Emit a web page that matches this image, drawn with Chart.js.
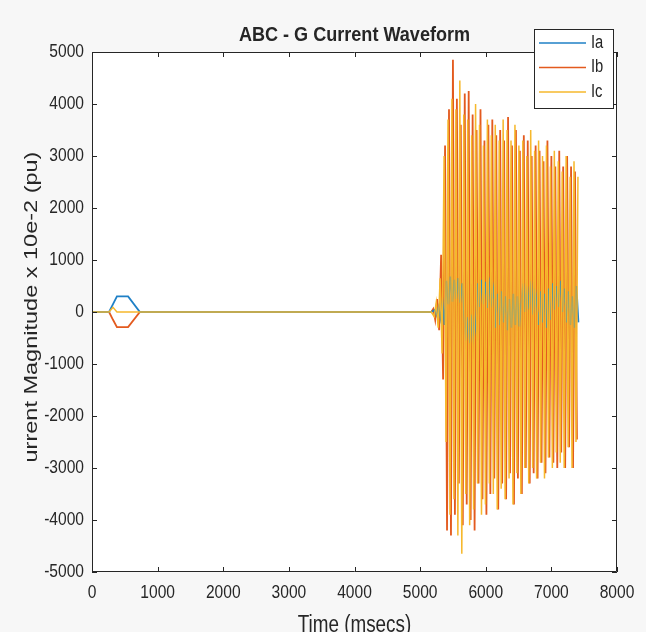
<!DOCTYPE html>
<html>
<head>
<meta charset="utf-8">
<script src="https://cdn.jsdelivr.net/npm/chart.js@4.4.0/dist/chart.umd.min.js"></script>
<style>
  html, body { margin: 0; padding: 0; background: #f7f7f7; }
  #wrap { width: 646px; height: 632px; }
</style>
</head>
<body>
<div id="wrap"><canvas id="c" width="646" height="632"></canvas></div>
<script>
// pre-fault part (ms) and values
const preTimes = [0, 260, 320, 380, 550, 730, 5170];
const preIa = [0, 0, 150, 300, 300, 0, 0];
const preIb = [0, 0, -150, -290, -290, 0, 0];
const preIc = [0, 0, 90, 0, 0, 0, 0];

// fault part: peaks
const faultTimes = [
  5200, 5230, 5260, 5290, 5320, 5350, 5380, 5410, 5440, 5470,
  5500, 5530, 5560, 5590, 5620, 5650, 5680, 5710, 5740, 5770,
  5800, 5830, 5860, 5890, 5920, 5950, 5980, 6010, 6040, 6070,
  6100, 6130, 6160, 6190, 6220, 6250, 6280, 6310, 6340, 6370,
  6400, 6430, 6460, 6490, 6520, 6550, 6580, 6610, 6640, 6670,
  6700, 6730, 6760, 6790, 6820, 6850, 6880, 6910, 6940, 6970,
  7000, 7030, 7060, 7090, 7120, 7150, 7180, 7210, 7240, 7270,
  7300, 7330, 7360, 7390
];
const faultIa = [
  40, -60, 90, -120, 200, -250,
  600, 150, 680, 200, 620, 250, 650, 180, 550,
  -80, -550, -100, -600, -50, -480, -150,
  550, 100, 620, 150, 580, 80, 520, 200, 450,
  -300, 350, -250, 400, -200, 300, -350,
  250, -300, 350, -250, 300, -280, 200,
  550, 0, 500, 50, 600, -50, 450, 100,
  -250, 400, -200, 350, -300, 450, -150,
  550, 50, 500, 100, 600, 0, 450,
  -200, 400, -250, 300, -300, 500, -200
];
const faultIb = [
  60, -150, 250, -350, 1100, -1300, 3200, -4200, 3900, -4300,
  4850, -3900, 4100, -3300, 3600, -4100, 4200, -3700, 4250, -4000,
  3800, -4200, 3500, -3300, 3900, -3600, 3300, -3900, 3600, -3500,
  3700, -3200, 3400, -3800, 3500, -3300, 3300, -3600, 3750, -3100,
  3200, -3700, 3500, -3200, 3100, -3500, 3400, -3000, 3300, -3300,
  3000, -3100, 3200, -3200, 3100, -2900, 2900, -3100, 3300, -2800,
  3000, -2900, 2800, -3000, 3100, -2700, 2800, -3000, 3000, -2600,
  2800, -3000, 2700, -2450
];
const faultIc = [
  -90, 180, -300, 650, -800, 3000, -2500, 3700, -3900, 4100,
  -3600, 3900, -4300, 4450, -4650, 3800, -3500, 3700, -4100, 3400,
  -3800, 4000, -3300, 3600, -3900, 3200, -3700, 3700, -3300, 3400,
  -3500, 3600, -3800, 3300, -3400, 3700, -3600, 3500, -3200, 3300,
  -3700, 3600, -3100, 3200, -3500, 3300, -3000, 3000, -3300, 3500,
  -3000, 3100, -3200, 3300, -2900, 3000, -3200, 3200, -2800, 2800,
  -3000, 3100, -2700, 2900, -2900, 2700, -3000, 3000, -2600, 2600,
  -3000, 2900, -2500, 2600
];

const seriesNames = ["Ia", "Ib", "Ic"];
const seriesColors = ["#1f80c6", "#e35a1e", "#f6b82c"];
const xTicks = [0, 1000, 2000, 3000, 4000, 5000, 6000, 7000, 8000];
const yTicks = [-5000, -4000, -3000, -2000, -1000, 0, 1000, 2000, 3000, 4000, 5000];

const toPts = (ts, vs, shift) => ts.map((t, i) => ({ x: t + (shift || 0), y: vs[i] }));

const FRAME = "#262626";
const SX = 0.82; // the reference text is squeezed sideways

function squeezedText(ctx, txt, x, y, font, align, baseline, sx) {
  ctx.save();
  ctx.font = font;
  ctx.textAlign = align;
  ctx.textBaseline = baseline;
  ctx.translate(x, y);
  ctx.scale(sx || SX, 1);
  ctx.fillText(txt, 0, 0);
  ctx.restore();
}

const matlabFrame = {
  id: "matlabFrame",
  beforeDatasetsDraw(chart) {
    const { ctx, chartArea: a } = chart;
    ctx.save();
    ctx.fillStyle = "#ffffff";
    ctx.fillRect(a.left, a.top, a.right - a.left, a.bottom - a.top);
    ctx.restore();
  },
  afterDraw(chart) {
    const { ctx, chartArea: a } = chart;
    const xs = chart.scales.x, ys = chart.scales.y;
    ctx.save();
    ctx.strokeStyle = FRAME;
    ctx.lineWidth = 1;
    ctx.beginPath();
    ctx.rect(a.left + 0.5, a.top + 0.5, a.right - a.left - 1, a.bottom - a.top - 1);
    ctx.stroke();

    // inward ticks on all sides
    ctx.beginPath();
    xTicks.forEach((v) => {
      const px = Math.round(xs.getPixelForValue(v)) + 0.5;
      ctx.moveTo(px, a.bottom); ctx.lineTo(px, a.bottom - 5);
      ctx.moveTo(px, a.top); ctx.lineTo(px, a.top + 5);
    });
    yTicks.forEach((v) => {
      const py = Math.round(ys.getPixelForValue(v)) + 0.5;
      ctx.moveTo(a.left, py); ctx.lineTo(a.left + 5, py);
      ctx.moveTo(a.right, py); ctx.lineTo(a.right - 5, py);
    });
    ctx.stroke();

    ctx.fillStyle = FRAME;
    const tickFont = "19px 'Liberation Sans', Arial, sans-serif";
    xTicks.forEach((v) => {
      squeezedText(ctx, String(v), xs.getPixelForValue(v), a.bottom + 21, tickFont, "center", "middle");
    });
    yTicks.forEach((v) => {
      squeezedText(ctx, String(v), a.left - 8, ys.getPixelForValue(v), tickFont, "right", "middle");
    });

    // title
    squeezedText(ctx, "ABC - G Current Waveform", (a.left + a.right) / 2, 41,
      "bold 21px 'Liberation Sans', Arial, sans-serif", "center", "alphabetic", 0.86);

    // x axis title (cut by the bottom edge like the reference)
    squeezedText(ctx, "Time (msecs)", (a.left + a.right) / 2, 632,
      "23px 'Liberation Sans', Arial, sans-serif", "center", "alphabetic");

    // y axis title, rotated
    ctx.save();
    ctx.translate(37, (a.top + a.bottom) / 2 - 5);
    ctx.rotate(-Math.PI / 2);
    ctx.scale(1, SX);
    ctx.font = "23.5px 'Liberation Sans', Arial, sans-serif";
    ctx.textAlign = "center";
    ctx.textBaseline = "alphabetic";
    ctx.fillText("urrent Magnitude x 10e-2 (pu)", 0, 0);
    ctx.restore();

    // legend box
    const lx = 534, ly = 29, lw = 79, lh = 79;
    ctx.fillStyle = "#ffffff";
    ctx.fillRect(lx, ly, lw, lh);
    ctx.strokeStyle = FRAME;
    ctx.lineWidth = 1;
    ctx.strokeRect(lx + 0.5, ly + 0.5, lw, lh);
    seriesNames.forEach((name, i) => {
      const yy = 43 + i * 24.5;
      ctx.strokeStyle = seriesColors[i];
      ctx.lineWidth = 1.5;
      ctx.beginPath();
      ctx.moveTo(539, yy); ctx.lineTo(586, yy);
      ctx.stroke();
      ctx.fillStyle = FRAME;
      squeezedText(ctx, name, 591, yy, "18px 'Liberation Sans', Arial, sans-serif", "left", "middle");
    });
    ctx.restore();
  },
};

// Ic on top, Ia between, Ib at the back
const datasets = [
  { label: "Ia", data: [...toPts(preTimes, preIa), ...toPts(faultTimes, faultIa, 22)], order: 1, borderWidth: 1.8 },
  { label: "Ib", data: [...toPts(preTimes, preIb), ...toPts(faultTimes, faultIb)], order: 2, borderWidth: 1.8 },
  { label: "Ic", data: [...toPts(preTimes, preIc), ...toPts(faultTimes, faultIc, 15)], order: 0, borderWidth: 1.5 },
].map((d, i) => ({
  ...d,
  borderColor: seriesColors[i],
  backgroundColor: seriesColors[i],
  pointRadius: 0,
  fill: false,
  tension: 0,
}));

new Chart(document.getElementById("c").getContext("2d"), {
  type: "line",
  data: { datasets },
  options: {
    responsive: false,
    animation: false,
    devicePixelRatio: 1,
    layout: { padding: { top: 52, right: 29, left: 0, bottom: 0 } },
    plugins: {
      legend: { display: false },
      tooltip: { enabled: false },
      title: { display: false },
    },
    scales: {
      x: {
        type: "linear",
        min: 0,
        max: 8000,
        ticks: { display: false, stepSize: 1000 },
        grid: { display: false },
        border: { display: false },
        afterFit: (s) => { s.height = 60; },
      },
      y: {
        min: -5000,
        max: 5000,
        ticks: { display: false, stepSize: 1000 },
        grid: { display: false },
        border: { display: false },
        afterFit: (s) => { s.width = 92; },
      },
    },
  },
  plugins: [matlabFrame],
});
</script>
</body>
</html>
